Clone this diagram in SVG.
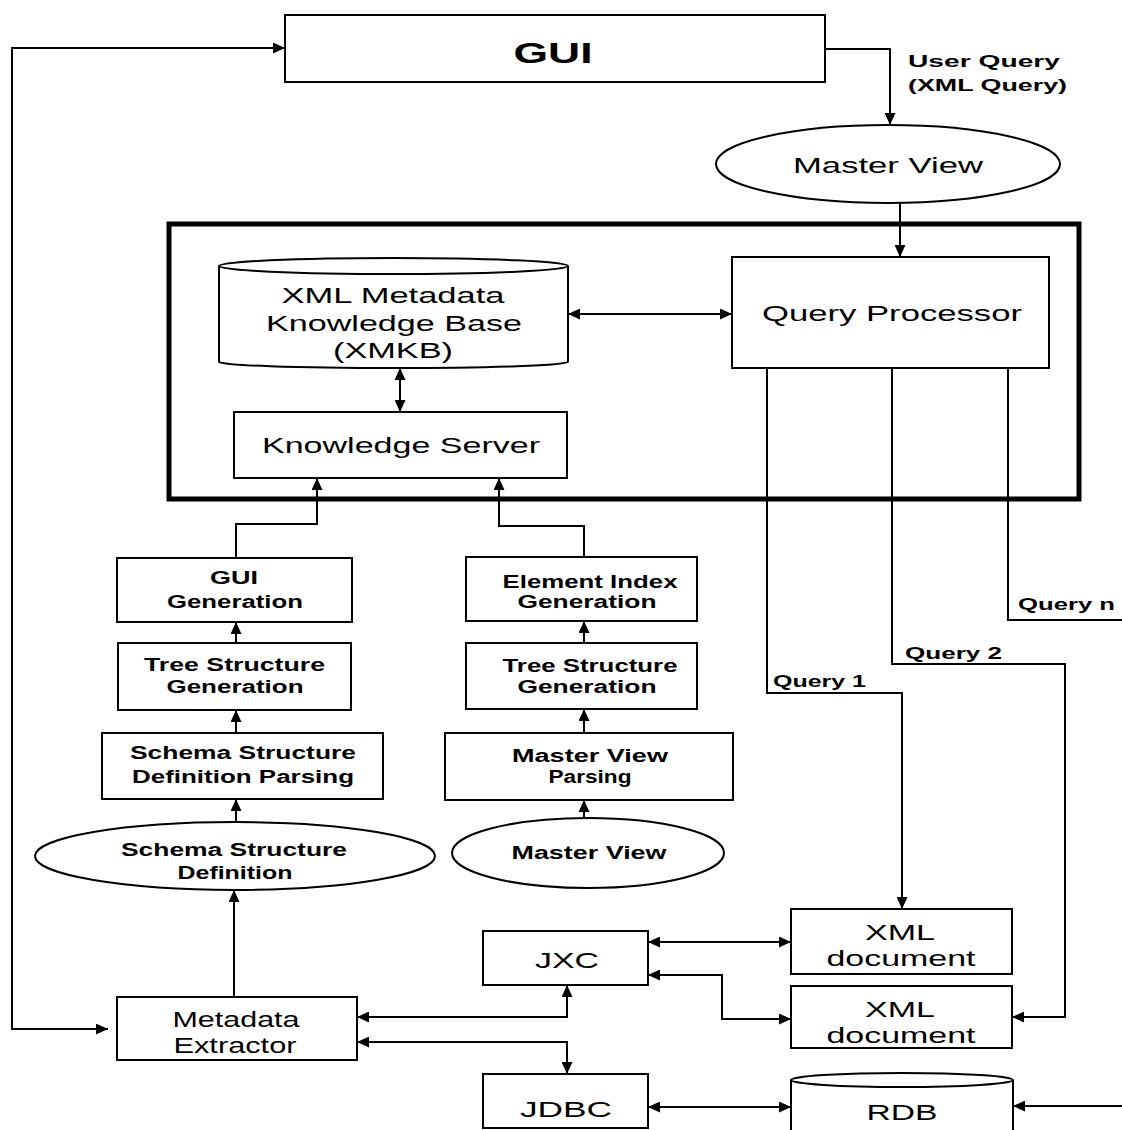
<svg xmlns="http://www.w3.org/2000/svg" width="1122" height="1130" viewBox="0 0 1122 1130">
<style>
.box{fill:#fff;stroke:#000;stroke-width:2}
.frame{fill:none;stroke:#000;stroke-width:5}
.ln{fill:none;stroke:#000;stroke-width:2}
text{font-family:"Liberation Sans",Arial,sans-serif;fill:#000}
.big{font-size:22px;text-anchor:middle}
.sm{font-size:18px;font-weight:bold;text-anchor:middle}
.lab{font-size:17px;font-weight:bold}
</style>
<defs>
<marker id="ah" viewBox="0 0 12 11" refX="12" refY="5.5" markerWidth="12" markerHeight="11" orient="auto-start-reverse" markerUnits="userSpaceOnUse">
<path d="M0,0 L12,5.5 L0,11 z" fill="#000"/>
</marker>
</defs>
<g id="connectors">
<path class="ln" d="M108,1029 L12,1029 L12,48 L285,48" marker-start="url(#ah)" marker-end="url(#ah)"/>
<path class="ln" d="M825,49 L890,49 L890,125" marker-end="url(#ah)"/>
<path class="ln" d="M900,203 L900,257" marker-end="url(#ah)"/>
<path class="ln" d="M568,314 L732,314" marker-start="url(#ah)" marker-end="url(#ah)"/>
<path class="ln" d="M400,368 L400,412" marker-start="url(#ah)" marker-end="url(#ah)"/>
<path class="ln" d="M236,558 L236,524 L317,524 L317,478" marker-end="url(#ah)"/>
<path class="ln" d="M584,557 L584,526 L499,526 L499,478" marker-end="url(#ah)"/>
<path class="ln" d="M236,643 L236,622" marker-end="url(#ah)"/>
<path class="ln" d="M236,733 L236,710" marker-end="url(#ah)"/>
<path class="ln" d="M236,822 L236,799" marker-end="url(#ah)"/>
<path class="ln" d="M234,997 L234,890" marker-end="url(#ah)"/>
<path class="ln" d="M584,643 L584,621" marker-end="url(#ah)"/>
<path class="ln" d="M584,733 L584,709" marker-end="url(#ah)"/>
<path class="ln" d="M584,818 L584,800" marker-end="url(#ah)"/>
<path class="ln" d="M767,368 L767,693 L902,693 L902,909" marker-end="url(#ah)"/>
<path class="ln" d="M892,368 L892,664 L1065,664 L1065,1017 L1012,1017" marker-end="url(#ah)"/>
<path class="ln" d="M1008,368 L1008,620 L1122,620"/>
<path class="ln" d="M357,1017 L567,1017 L567,985" marker-start="url(#ah)" marker-end="url(#ah)"/>
<path class="ln" d="M357,1042 L567,1042 L567,1074" marker-start="url(#ah)" marker-end="url(#ah)"/>
<path class="ln" d="M648,942 L791,942" marker-start="url(#ah)" marker-end="url(#ah)"/>
<path class="ln" d="M648,975 L722,975 L722,1019 L791,1019" marker-start="url(#ah)" marker-end="url(#ah)"/>
<path class="ln" d="M648,1107 L791,1107" marker-start="url(#ah)" marker-end="url(#ah)"/>
<path class="ln" d="M1122,1106 L1013,1106" marker-end="url(#ah)"/>
<text class="lab" x="908" y="67" textLength="152" lengthAdjust="spacingAndGlyphs">User Query</text>
<text class="lab" x="908" y="91" textLength="159" lengthAdjust="spacingAndGlyphs">(XML Query)</text>
<text class="lab" x="773" y="687" textLength="93" lengthAdjust="spacingAndGlyphs">Query 1</text>
<text class="lab" x="905" y="659" textLength="97" lengthAdjust="spacingAndGlyphs">Query 2</text>
<text class="lab" x="1018" y="610" textLength="97" lengthAdjust="spacingAndGlyphs">Query n</text>
</g>
<g id="frame"><rect class="frame" x="169" y="224" width="910" height="275"/></g>
<g id="gui">
<rect class="box" x="285" y="15" width="540" height="67"/>
<text x="553" y="63" font-size="29" font-weight="bold" text-anchor="middle" textLength="79" lengthAdjust="spacingAndGlyphs">GUI</text>
</g>
<g id="master-view-top">
<ellipse class="box" cx="888" cy="164" rx="172" ry="39"/>
<text class="big" x="888" y="173" textLength="190" lengthAdjust="spacingAndGlyphs">Master View</text>
</g>
<g id="query-processor">
<rect class="box" x="732" y="257" width="317" height="111"/>
<text class="big" x="892" y="321" font-size="23" textLength="260" lengthAdjust="spacingAndGlyphs">Query Processor</text>
</g>
<g id="xmkb">
<path class="box" d="M219,266 L219,362 A174.5,6 0 0 0 568,362 L568,266"/>
<ellipse class="box" cx="393.5" cy="266" rx="174.5" ry="8"/>
<text class="big" x="393" y="303" textLength="223" lengthAdjust="spacingAndGlyphs">XML Metadata</text>
<text class="big" x="394" y="331" textLength="256" lengthAdjust="spacingAndGlyphs">Knowledge Base</text>
<text class="big" x="393" y="358" textLength="120" lengthAdjust="spacingAndGlyphs">(XMKB)</text>
</g>
<g id="knowledge-server">
<rect class="box" x="234" y="412" width="333" height="66"/>
<text class="big" x="401" y="453" textLength="278" lengthAdjust="spacingAndGlyphs">Knowledge Server</text>
</g>
<g id="gui-generation">
<rect class="box" x="117" y="558" width="235" height="64"/>
<text class="sm" x="234" y="584" textLength="48" lengthAdjust="spacingAndGlyphs">GUI</text>
<text class="sm" x="235" y="608" textLength="136" lengthAdjust="spacingAndGlyphs">Generation</text>
</g>
<g id="tree-structure-1">
<rect class="box" x="118" y="643" width="233" height="67"/>
<text class="sm" x="234.5" y="671" textLength="181" lengthAdjust="spacingAndGlyphs">Tree Structure</text>
<text class="sm" x="235" y="693" textLength="137" lengthAdjust="spacingAndGlyphs">Generation</text>
</g>
<g id="schema-parsing">
<rect class="box" x="102" y="733" width="281" height="66"/>
<text class="sm" x="243" y="759" textLength="226" lengthAdjust="spacingAndGlyphs">Schema Structure</text>
<text class="sm" x="243" y="783" textLength="222" lengthAdjust="spacingAndGlyphs">Definition Parsing</text>
</g>
<g id="schema-definition">
<ellipse class="box" cx="235" cy="856" rx="200" ry="34"/>
<text class="sm" x="234" y="856" textLength="226" lengthAdjust="spacingAndGlyphs">Schema Structure</text>
<text class="sm" x="235" y="879" textLength="115" lengthAdjust="spacingAndGlyphs">Definition</text>
</g>
<g id="element-index">
<rect class="box" x="466" y="557" width="231" height="64"/>
<text class="sm" x="590" y="588" textLength="175" lengthAdjust="spacingAndGlyphs">Element Index</text>
<text class="sm" x="587" y="608" textLength="139" lengthAdjust="spacingAndGlyphs">Generation</text>
</g>
<g id="tree-structure-2">
<rect class="box" x="466" y="643" width="231" height="66"/>
<text class="sm" x="590" y="672" textLength="175" lengthAdjust="spacingAndGlyphs">Tree Structure</text>
<text class="sm" x="587" y="693" textLength="139" lengthAdjust="spacingAndGlyphs">Generation</text>
</g>
<g id="master-view-parsing">
<rect class="box" x="445" y="733" width="288" height="67"/>
<text class="sm" x="590" y="762" textLength="156" lengthAdjust="spacingAndGlyphs">Master View</text>
<text class="sm" x="590" y="783" textLength="83" lengthAdjust="spacingAndGlyphs">Parsing</text>
</g>
<g id="master-view-bottom">
<ellipse class="box" cx="588" cy="853" rx="136" ry="35"/>
<text class="sm" x="589" y="859" textLength="155" lengthAdjust="spacingAndGlyphs">Master View</text>
</g>
<g id="metadata-extractor">
<rect class="box" x="117" y="997" width="240" height="63"/>
<text class="big" x="236" y="1027" font-size="21" textLength="127" lengthAdjust="spacingAndGlyphs">Metadata</text>
<text class="big" x="235" y="1053" font-size="21" textLength="123" lengthAdjust="spacingAndGlyphs">Extractor</text>
</g>
<g id="jxc">
<rect class="box" x="483" y="931" width="165" height="54"/>
<text class="big" x="567" y="968" textLength="64" lengthAdjust="spacingAndGlyphs">JXC</text>
</g>
<g id="xml-document-1">
<rect class="box" x="791" y="909" width="221" height="65"/>
<text class="big" x="900" y="940" textLength="70" lengthAdjust="spacingAndGlyphs">XML</text>
<text class="big" x="901" y="966" textLength="149" lengthAdjust="spacingAndGlyphs">document</text>
</g>
<g id="xml-document-2">
<rect class="box" x="791" y="986" width="221" height="62"/>
<text class="big" x="900" y="1017" textLength="70" lengthAdjust="spacingAndGlyphs">XML</text>
<text class="big" x="901" y="1043" textLength="149" lengthAdjust="spacingAndGlyphs">document</text>
</g>
<g id="jdbc">
<rect class="box" x="483" y="1074" width="165" height="54"/>
<text class="big" x="566" y="1117" textLength="92" lengthAdjust="spacingAndGlyphs">JDBC</text>
</g>
<g id="rdb">
<path class="box" d="M791,1080 L791,1132 L1013,1132 L1013,1080"/>
<ellipse class="box" cx="902" cy="1080" rx="111" ry="7"/>
<text class="big" x="902" y="1120" textLength="71" lengthAdjust="spacingAndGlyphs">RDB</text>
</g>
</svg>
